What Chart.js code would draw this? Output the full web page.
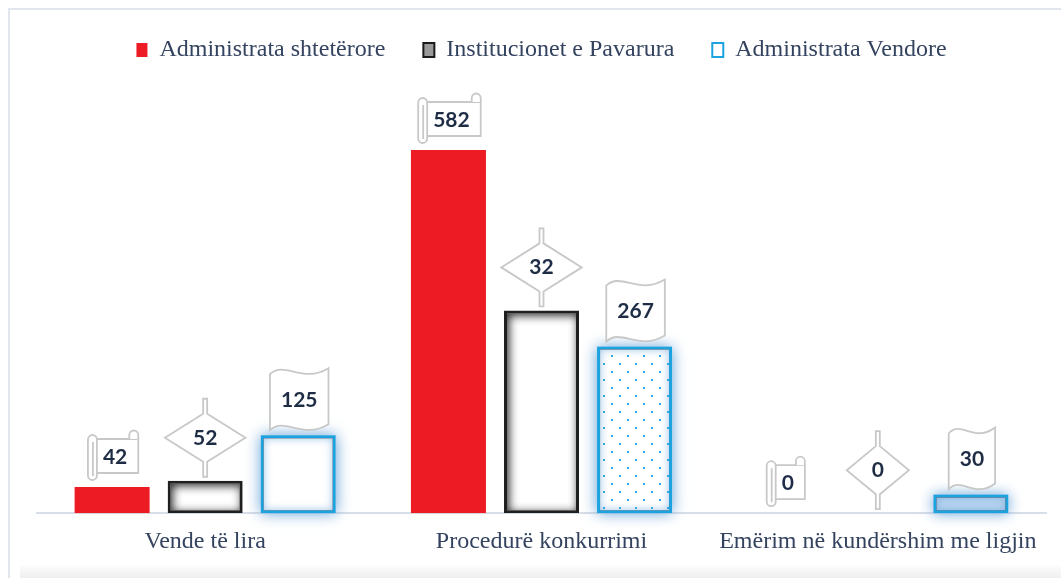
<!DOCTYPE html>
<html>
<head>
<meta charset="utf-8">
<script src="https://cdn.jsdelivr.net/npm/chart.js@4/dist/chart.umd.min.js"></script>
<style>
  html, body { margin: 0; padding: 0; background: #ffffff; }
  #wrap { position: relative; width: 1061px; height: 578px; overflow: hidden; }
  #frame { position: absolute; left: 8px; top: 8px; width: 1060px; height: 570px;
           border-top: 2px solid #e1e6ee; border-left: 2px solid #e1e6ee; box-sizing: border-box; }
  #shade { position: absolute; left: 20px; top: 565px; width: 1041px; height: 13px;
           background: linear-gradient(#fdfdfd, #efefef); }
  #box { position: absolute; left: 0; top: 0; width: 1061px; height: 578px; }
</style>
</head>
<body>
<div id="wrap">
  <div id="frame"></div>
  <div id="shade"></div>
  <div id="box"><canvas id="c"></canvas></div>
</div>
<script>
// ---- data ----
const categories = ['Vende të lira', 'Procedurë konkurrimi', 'Emërim në kundërshim me ligjin'];
const seriesNames = ['Administrata shtetërore', 'Institucionet e Pavarura', 'Administrata Vendore'];
const shteteroreValues = [42, 582, 0];
const pavaruraValues = [52, 325, 0];      // bar heights as drawn
const vendoreValues = [125, 267, 30];
const shteteroreLabels = ['42', '582', '0'];
const pavaruraLabels = ['52', '32', '0']; // labels as printed
const vendoreLabels = ['125', '267', '30'];
const labelTexts = [shteteroreLabels, pavaruraLabels, vendoreLabels];

// ---- styles ----
const textColor = '#34435f';
const valueColor = '#1e2d45';
const calloutStroke = '#c8c8c8';

function makeDots() {
  const p = document.createElement('canvas');
  p.width = 16; p.height = 16;
  const g = p.getContext('2d');
  g.fillStyle = '#ffffff';
  g.fillRect(0, 0, 16, 16);
  g.fillStyle = '#2eaae5';
  g.fillRect(3, 3, 2, 2);
  g.fillRect(11, 11, 2, 2);
  return g.createPattern(p, 'repeat');
}

const ctxEl = document.getElementById('c');
const dots = makeDots();

function barBox(el) {
  const p = el.getProps(['x', 'y', 'base', 'width'], true);
  return { l: p.x - p.width / 2, r: p.x + p.width / 2, t: p.y, b: p.base };
}

const barEffects = {
  id: 'barEffects',
  beforeDatasetDraw(chart, args) {
    if (args.index !== 2) return;
    const ctx = chart.ctx;
    chart.getDatasetMeta(2).data.forEach((el) => {
      const q = barBox(el);
      if (q.b - q.t < 1) return;
      ctx.save();
      ctx.shadowColor = 'rgba(91,155,213,0.95)';
      ctx.shadowBlur = 14;
      ctx.fillStyle = '#9cc6ec';
      ctx.fillRect(q.l, q.t, q.r - q.l, q.b - q.t);
      ctx.restore();
    });
  },
  afterDatasetDraw(chart, args) {
    const ctx = chart.ctx;
    if (args.index !== 1 && args.index !== 2) return;
    chart.getDatasetMeta(args.index).data.forEach((el) => {
      const q = barBox(el);
      if (q.b - q.t < 4) return;
      const l = q.l + 3, r = q.r - 3, t = q.t + 3, b = q.b - 3;
      ctx.save();
      ctx.beginPath();
      ctx.rect(l, t, r - l, b - t);
      ctx.clip();
      ctx.beginPath();
      ctx.rect(l - 20, t - 20, r - l + 40, b - t + 40);
      ctx.lineWidth = 40;
      if (args.index === 1) {
        ctx.shadowColor = 'rgba(0,0,0,0.85)';
        ctx.shadowBlur = 10;
        ctx.shadowOffsetX = 2;
        ctx.shadowOffsetY = 2;
      } else {
        ctx.shadowColor = 'rgba(91,155,213,0.6)';
        ctx.shadowBlur = 8;
      }
      ctx.strokeStyle = '#000';
      ctx.stroke();
      ctx.restore();
    });
  }
};

function scrollShape(ctx, x, y, tw) {
  const w = tw + 26, h = 50;
  const B = y - 7, T = B - h;
  const L = x - w / 2 + 1, R = L + w;
  ctx.beginPath();
  ctx.rect(L + 5, T + 9, R - L - 5, 34);
  ctx.fill(); ctx.stroke();
  ctx.beginPath();
  ctx.moveTo(R - 9, T + 9);
  ctx.lineTo(R - 9, T + 5);
  ctx.arc(R - 4.5, T + 5, 4.5, Math.PI, 0);
  ctx.lineTo(R, T + 9);
  ctx.fill(); ctx.stroke();
  ctx.beginPath();
  ctx.roundRect(L, T + 5, 9, 45, 4.5);
  ctx.fill(); ctx.stroke();
  ctx.beginPath();
  ctx.moveTo(L + 5, T + 12); ctx.lineTo(L + 5, T + 46);
  ctx.stroke();
  return [(L + R) / 2 + 2, T + 27];
}

function diamondShape(ctx, x, y, tw) {
  const hw = tw * 0.75 + 22, hh = 39, sw = 4, st = 15;
  const cy = y - 4 - hh;
  ctx.beginPath();
  ctx.moveTo(x - sw / 2, cy - hh);
  ctx.lineTo(x + sw / 2, cy - hh);
  ctx.lineTo(x + sw / 2, cy - hh + st);
  ctx.lineTo(x + hw, cy);
  ctx.lineTo(x + sw / 2, cy + hh - st);
  ctx.lineTo(x + sw / 2, cy + hh);
  ctx.lineTo(x - sw / 2, cy + hh);
  ctx.lineTo(x - sw / 2, cy + hh - st);
  ctx.lineTo(x - hw, cy);
  ctx.lineTo(x - sw / 2, cy - hh + st);
  ctx.closePath();
  ctx.fill(); ctx.stroke();
  return [x, cy];
}

function waveShape(ctx, x, y, tw) {
  const w = tw + 22, h = 56;
  const B = y - 11, T = B - h;
  const L = x - w / 2 + 1, R = L + w;
  ctx.beginPath();
  ctx.moveTo(L, T + 6);
  ctx.bezierCurveTo(L + w * 0.25, T - 8, L + w * 0.55, T + 16, R, T);
  ctx.lineTo(R, T + h);
  ctx.bezierCurveTo(L + w * 0.55, T + h + 16, L + w * 0.25, T + h - 8, L, T + h + 6);
  ctx.closePath();
  ctx.fill(); ctx.stroke();
  return [x + 1, T + h / 2 + 4];
}

const callouts = {
  id: 'callouts',
  afterDatasetsDraw(chart) {
    const ctx = chart.ctx;
    ctx.save();
    ctx.font = 'bold 21px Lato';
    chart.data.datasets.forEach((ds, di) => {
      const meta = chart.getDatasetMeta(di);
      meta.data.forEach((el, j) => {
        const p = el.getProps(['x', 'y'], true);
        const text = labelTexts[di][j];
        const tw = ctx.measureText(text).width;
        ctx.lineWidth = 1.8;
        ctx.strokeStyle = calloutStroke;
        ctx.fillStyle = '#ffffff';
        let c;
        if (di === 0) c = scrollShape(ctx, p.x, p.y, tw);
        else if (di === 1) c = diamondShape(ctx, p.x, p.y, tw);
        else c = waveShape(ctx, p.x, p.y, tw);
        ctx.fillStyle = valueColor;
        ctx.textAlign = 'center';
        ctx.textBaseline = 'middle';
        ctx.fillText(text, c[0], c[1]);
      });
    });
    ctx.restore();
  }
};

const legendFill = ['#ed1c24', '#9a9a9a', '#ffffff'];
const legendStroke = ['#ed1c24', '#1a1a1a', '#1ba3e0'];
const legendLine = [0, 2, 2];

new Chart(ctxEl, {
  type: 'bar',
  data: {
    labels: categories,
    datasets: [
      { label: seriesNames[0], data: shteteroreValues, backgroundColor: '#ed1c24', borderWidth: 0 },
      { label: seriesNames[1], data: pavaruraValues, backgroundColor: '#ffffff', borderColor: '#1f1f1f', borderWidth: 3, borderSkipped: false },
      { label: seriesNames[2], data: vendoreValues, backgroundColor: ['#ffffff', dots, '#b9d5ef'], borderColor: '#1ba3e0', borderWidth: 3, borderSkipped: false }
    ]
  },
  options: {
    responsive: true,
    maintainAspectRatio: false,
    animation: false,
    devicePixelRatio: 1,
    categoryPercentage: 0.83,
    barPercentage: 0.806,
    layout: { padding: { top: 0, left: 37, right: 15, bottom: 8 } },
    plugins: {
      tooltip: { enabled: false },
      legend: {
        position: 'top',
        padding: 10,
        labels: {
          boxWidth: 11,
          boxHeight: 14,
          padding: 38,
          color: textColor,
          font: { family: 'Liberation Serif', size: 24 },
          generateLabels(chart) {
            return chart.data.datasets.map((ds, i) => ({
              text: ds.label,
              fillStyle: legendFill[i],
              strokeStyle: legendStroke[i],
              lineWidth: legendLine[i],
              fontColor: textColor,
              hidden: false,
              datasetIndex: i
            }));
          }
        }
      }
    },
    scales: {
      x: {
        grid: { display: false, drawTicks: false },
        border: { display: true, color: '#d8dee8', width: 2 },
        ticks: { color: textColor, padding: 14, font: { family: 'Liberation Serif', size: 24 } }
      },
      y: {
        display: false,
        min: 0,
        max: 707
      }
    }
  },
  plugins: [barEffects, callouts]
});
</script>
</body>
</html>
